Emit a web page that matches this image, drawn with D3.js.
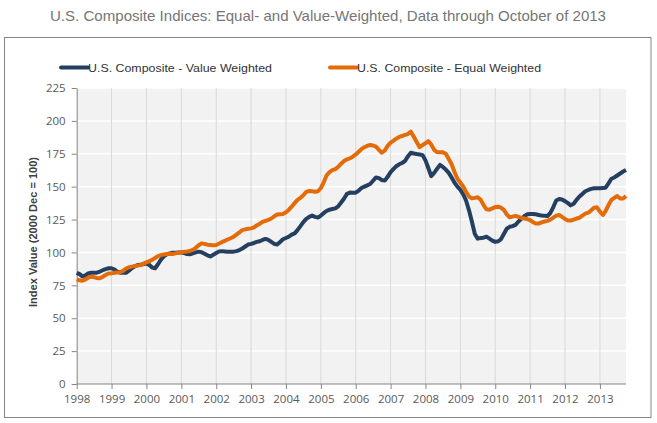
<!DOCTYPE html>
<html>
<head>
<meta charset="utf-8">
<script src="https://cdn.jsdelivr.net/npm/d3@7"></script>
<style>
  body { margin: 0; background: #fff; }
  svg { display: block; }
</style>
</head>
<body>
<div id="chart"></div>
<script>
// monthly index values, Jan 1998 .. Oct 2013
const startYear = 1998;
const seriesNames = ["U.S. Composite - Value Weighted", "U.S. Composite - Equal Weighted"];
const seriesColors = ["#243f60", "#e36c09"];
const yTicks = [0, 25, 50, 75, 100, 125, 150, 175, 200, 225];
const xTickYears = [1998, 1999, 2000, 2001, 2002, 2003, 2004, 2005, 2006, 2007, 2008, 2009, 2010, 2011, 2012, 2013];

const valueWeighted = [
  84.5, 83.5, 81.8, 82.5, 84, 84.6, 84.6, 84.6, 85.5, 86.5, 87.3, 88,
  88, 87, 85.5, 84.6, 84.5, 84.6, 86, 88, 89.5, 90.4, 90.6, 91.2,
  91.5, 90.5, 88.5, 88, 91, 94.5, 97, 98.5, 99.3, 99.8, 99.8, 99.9,
  100, 99.5, 98.8, 98.6, 99.3, 100, 100.6, 100.2, 99, 97.8, 97, 98.2,
  99.5, 100.8, 101, 100.8, 100.6, 100.6, 100.6, 101, 101.8, 103, 104.5, 106,
  106.5, 107.2, 108, 108.5, 109.5, 110.3, 109.5, 108, 106.5, 106, 108, 110,
  111, 112, 113.5, 114.5, 117, 120, 123, 125.5, 127, 128, 127, 126.5,
  128, 130, 131.5, 132.5, 133, 133.5, 135, 138, 141, 144.5, 145.5, 145.4,
  145.4, 147, 149, 150, 151, 152, 154.5, 157, 156.5, 155, 154.6, 157.5,
  161, 163.5, 165.5, 167, 168, 169.5, 173, 175.8, 175.2, 174.8, 174.5, 174,
  170, 164, 158, 160.5, 163.5, 166.5, 165, 163, 160.5, 157, 153, 150,
  147.5, 144, 139.5, 132, 123.5, 114, 110.5, 111, 111.2, 112, 110.5, 109,
  108, 108.5, 110, 114, 118, 119.5, 120, 121, 123.5, 125.5, 127.5, 129,
  129.2, 129.3, 129, 128.5, 128, 127.8, 127.7, 130, 134.5, 139.5, 140.6, 140.2,
  139, 137.5, 135.8, 137, 140, 142.5, 144.5, 146.5, 147.5, 148.3, 148.8, 148.8,
  148.8, 149, 149.2, 152.5, 156, 157, 158.5, 160, 161.5, 162.7
];

const equalWeighted = [
  79.6, 78.8, 78.5, 79.5, 80.8, 81.6, 81.2, 80.6, 80.3, 81.5, 83, 84,
  84.2, 84.5, 84.8, 84.9, 86, 87.8, 88.7, 89.2, 89.6, 90, 90.4, 91.5,
  92.5, 93.3, 94.5, 95.8, 97.2, 98, 98.5, 98.8, 98.8, 98.8, 99.3, 99.8,
  100.2, 100.5, 100.7, 101.2, 101.9, 103.5, 105.5, 106.9, 106.5, 105.9, 105.7, 105.5,
  105.7, 106.8, 107.8, 108.8, 109.8, 110.8, 111.8, 113.5, 115.2, 117, 117.5, 118,
  118.3, 119, 120.5, 121.8, 123.2, 124, 124.8, 125.8, 127.5, 128.8, 129, 129.2,
  130.5, 132.5, 134.8, 137.5, 140, 141.5, 143.5, 146, 146.7, 146.5, 146.2, 146.5,
  149, 153.5, 158.5, 161, 162.5, 163.4, 165, 167.5, 169.5, 170.8, 171.5, 172.8,
  174.5, 176.6, 178.5, 180, 181, 181.7, 181.3, 180.4, 178, 175.8, 177.5, 181,
  183.5, 185, 186.5, 187.8, 188.5, 189.3, 190, 191.8, 188, 184, 180, 181.5,
  183, 184.6, 182, 178, 176.3, 176.2, 176.1, 175, 171, 167, 161, 156,
  153, 150, 146, 142.5, 141.1, 141.5, 142, 140, 136, 132.8, 132.5, 133.5,
  134.5, 134.8, 134, 132.3, 129, 126.7, 127.2, 127.8, 127, 126.2, 125.8, 125.4,
  124.5, 123, 122, 122, 122.8, 123.5, 124, 125, 126.5, 128, 128.5, 127,
  125.5, 124.3, 124.2, 125, 125.8, 126.4, 128, 129.5, 130.2, 132, 134, 134.3,
  131, 128.5, 131.5, 136, 139.9, 141.5, 142.9, 141, 141, 142.9
];

const width = 657, height = 423;
const plot = { left: 76.7, right: 626, top: 88, bottom: 384 };

const svg = d3.select("#chart").append("svg")
  .attr("width", width).attr("height", height)
  .style("font-family", "'Liberation Sans', Arial, sans-serif");

const months = valueWeighted.map((d, i) => new Date(startYear, i, 1));

const x = d3.scaleTime()
  .domain([months[0], months[months.length - 1]])
  .range([plot.left, plot.right]);
const y = d3.scaleLinear().domain([0, 225]).range([plot.bottom, plot.top]);

// title
svg.append("text")
  .attr("x", 328).attr("y", 21)
  .attr("text-anchor", "middle")
  .attr("fill", "#767676")
  .style("font-family", "'Liberation Sans Narrow', 'Arial Narrow', 'Liberation Sans', sans-serif")
  .style("font-size", "14.5px")
  .attr("textLength", 556).attr("lengthAdjust", "spacingAndGlyphs")
  .text("U.S. Composite Indices: Equal- and Value-Weighted,  Data through October of 2013");

// chart frame
svg.append("rect")
  .attr("x", 4.5).attr("y", 37.5).attr("width", 646.5).attr("height", 380)
  .attr("fill", "none").attr("stroke", "#868686");

// plot background
svg.append("rect")
  .attr("x", plot.left).attr("y", plot.top)
  .attr("width", plot.right - plot.left).attr("height", plot.bottom - plot.top)
  .attr("fill", "#f2f2f2");

// horizontal grid (white)
svg.append("g").selectAll("line").data(yTicks.slice(1)).enter().append("line")
  .attr("x1", plot.left).attr("x2", plot.right)
  .attr("y1", d => y(d)).attr("y2", d => y(d))
  .attr("stroke", "#ffffff").attr("stroke-width", 1.5);

// vertical grid (years)
const yearDates = xTickYears.map(yr => new Date(yr, 0, 1));
svg.append("g").selectAll("line").data(yearDates.slice(1)).enter().append("line")
  .attr("x1", d => x(d)).attr("x2", d => x(d))
  .attr("y1", plot.top).attr("y2", plot.bottom)
  .attr("stroke", "#d9d9d9").attr("stroke-width", 1);

// axes
const xAxis = d3.axisBottom(x).tickValues(yearDates).tickFormat(d3.timeFormat("%Y"))
  .tickSizeInner(5).tickSizeOuter(0).tickPadding(6);
const yAxis = d3.axisLeft(y).tickValues(yTicks).tickSizeInner(5).tickSizeOuter(0).tickPadding(6);

const gx = svg.append("g").attr("transform", `translate(0,${plot.bottom})`).call(xAxis);
const gy = svg.append("g").attr("transform", `translate(${plot.left},0)`).call(yAxis);

[gx, gy].forEach(g => {
  g.select(".domain").attr("stroke", "#868686");
  g.selectAll(".tick line").attr("stroke", "#868686");
  g.selectAll(".tick text").attr("fill", "#595959")
    .style("font-family", "'Open Sans', 'Liberation Sans', sans-serif")
    .style("font-size", "11.5px");
});
gx.select(".domain").attr("d", `M${plot.left},0H${plot.right}`);

// y axis title
svg.append("text")
  .attr("transform", "translate(37,232) rotate(-90)")
  .attr("text-anchor", "middle")
  .attr("fill", "#404040")
  .style("font-weight", "bold")
  .style("font-size", "11.5px")
  .attr("textLength", 150).attr("lengthAdjust", "spacingAndGlyphs")
  .text("Index Value (2000 Dec = 100)");

// lines
const line = d3.line().x((d, i) => x(months[i])).y(d => y(d));
[valueWeighted, equalWeighted].forEach((s, k) => {
  svg.append("path").datum(s)
    .attr("fill", "none")
    .attr("stroke", seriesColors[k])
    .attr("stroke-width", 4)
    .attr("stroke-linejoin", "round")
    .attr("d", line);
});

// legend
const legendX = [61, 330];
const legend = svg.append("g").selectAll("g").data(seriesNames).enter().append("g")
  .attr("transform", (d, i) => `translate(${legendX[i]},67.5)`);
legend.append("line")
  .attr("x1", 0).attr("x2", 27).attr("y1", 0).attr("y2", 0)
  .attr("stroke", (d, i) => seriesColors[i]).attr("stroke-width", 4)
  .attr("stroke-linecap", "round");
legend.append("text")
  .attr("x", 27).attr("y", 4)
  .attr("fill", "#333333")
  .style("font-size", "11.5px")
  .attr("textLength", 184)
  .attr("lengthAdjust", "spacingAndGlyphs")
  .text(d => d);
</script>
</body>
</html>
